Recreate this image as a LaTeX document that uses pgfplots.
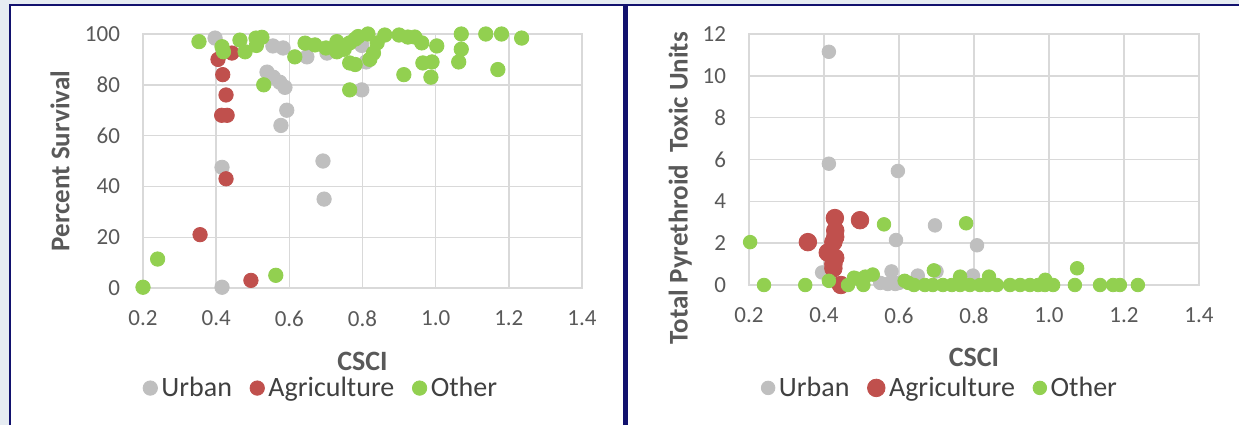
\documentclass[border=0pt]{standalone}
\usepackage{pgfplots}
\pgfplotsset{compat=1.18}
\usepackage{fontspec}
\setmainfont{Carlito}
\definecolor{bgc}{RGB}{230,236,242}
\definecolor{navy}{RGB}{18,18,110}
\definecolor{gridc}{RGB}{217,217,217}
\definecolor{txt}{RGB}{89,89,89}
\definecolor{urb}{RGB}{191,191,191}
\definecolor{agr}{RGB}{192,80,77}
\definecolor{oth}{RGB}{146,208,80}
\pgfplotsset{
  common/.style={
    scale only axis,
    anchor=south west,
    clip=false,
    xmin=0.2, xmax=1.4,
    xtick={0.2,0.4,...,1.4},
    grid=major,
    major grid style={draw=gridc, line width=0.7pt},
    axis line style={draw=gridc, line width=0.7pt},
    major tick length=0pt,
    /pgf/number format/assume math mode=true,
    tick label style={font=\fontsize{11.5}{13}\selectfont, text=txt},
    xticklabel style={/pgf/number format/.cd, fixed, fixed zerofill, precision=1, /tikz/.cd, yshift=-8pt},
    yticklabel style={xshift=-8pt},
    xlabel={CSCI},
    xlabel style={font=\fontsize{14}{16}\selectfont\bfseries, text=txt, at={(axis description cs:0.5,-0.29)}, anchor=center},
    legend columns=-1,
    legend style={draw=none, fill=none, font=\fontsize{14}{16}\selectfont, text=black!75, anchor=center,
      /tikz/every even column/.append style={column sep=7pt}},
  }
}
\begin{document}
\begin{tikzpicture}
\fill[bgc] (0,0) rectangle (619.5pt,212.5pt);
\path[use as bounding box] (0,0) rectangle (619.5pt,212.5pt);
\fill[white] (5pt,0) rectangle (619.5pt,210pt);
\draw[navy, line width=1.2pt] (5pt,0) -- (5pt,210pt) -- (619.5pt,210pt);
\draw[navy, line width=2.2pt] (312.75pt,0) -- (312.75pt,210pt);

\begin{axis}[common,
  at={(71.5pt,68.5pt)}, width=219.5pt, height=127pt,
  ymin=0, ymax=100, ytick={0,20,...,100},
  ylabel={Percent Survival},
  ylabel style={font=\fontsize{13.5}{15}\selectfont\bfseries, text=txt, at={(axis description cs:-0.189,0.5)}, anchor=center},
  legend style={at={(axis description cs:0.408,-0.394)}},
]
\addplot[only marks, mark=*, mark size=3.6pt, color=urb] coordinates {
(0.397,98.4) (0.416,47.5) (0.416,0.3) (0.555,95.3) (0.583,94.5) (0.648,91)
(0.703,92.5) (0.798,95.5) (0.81,89) (0.798,78) (0.539,85) (0.556,83)
(0.574,81) (0.588,79) (0.593,70) (0.577,64) (0.692,50) (0.695,35)
};
\addlegendentry{Urban}
\addplot[only marks, mark=*, mark size=3.6pt, color=agr] coordinates {
(0.405,90) (0.443,92.5) (0.418,84) (0.427,76) (0.415,68) (0.430,68)
(0.427,43) (0.356,21) (0.495,3)
};
\addlegendentry{Agriculture}
\addplot[only marks, mark=*, mark size=3.6pt, color=oth] coordinates {
(0.200,0.3) (0.240,11.4) (0.563,5) (0.353,97) (0.416,95) (0.42,93)
(0.465,97.6) (0.479,93) (0.509,98.4) (0.525,98.7) (0.51,95.5) (0.530,80)
(0.615,91) (0.643,96.4) (0.670,95.7) (0.700,94.5) (0.730,97) (0.730,93)
(0.765,96.5) (0.788,99) (0.815,100) (0.840,96.5) (0.830,92.5) (0.820,90)
(0.861,99.6) (0.765,88.6) (0.780,88) (0.765,78) (0.900,99.6) (0.924,98.8)
(0.943,98.8) (0.962,96.5) (1.003,95.3) (0.913,84) (0.965,88.6) (0.990,89)
(0.987,83) (1.070,100) (1.070,94) (1.063,89) (1.137,100) (1.180,100)
(1.235,98.4) (1.170,86) (0.78,98) (0.75,94)
};
\addlegendentry{Other}
\end{axis}

\begin{axis}[common,
  at={(374.5pt,70pt)}, width=225pt, height=125.5pt,
  ymin=0, ymax=12, ytick={0,2,...,12},
  ylabel={Total Pyrethroid\ \ Toxic Units},
  ylabel style={font=\fontsize{13.5}{15}\selectfont\bfseries, text=txt, at={(axis description cs:-0.153,0.386)}, anchor=center},
  legend style={at={(axis description cs:0.427,-0.41)}},
]
\addplot[only marks, mark=*, mark size=3.4pt, color=urb] coordinates {
(0.413,11.15) (0.413,5.8) (0.597,5.45) (0.592,2.15) (0.696,2.85) (0.808,1.9)
(0.395,0.6) (0.58,0.65) (0.65,0.45) (0.797,0.45) (0.70,0.65) (0.55,0.1)
(0.57,0.05) (0.59,0.05) (0.60,0.1) (0.415,0.2)
};
\addlegendentry{Urban}
\addplot[only marks, mark=*, mark size=4.4pt, color=agr] coordinates {
(0.357,2.05) (0.429,3.2) (0.496,3.1) (0.43,2.6) (0.43,2.3) (0.425,2.05)
(0.41,1.55) (0.43,1.3) (0.425,1.0) (0.425,0.8) (0.445,0.0)
};
\addlegendentry{Agriculture}
\addplot[only marks, mark=*, mark size=3.4pt, color=oth] coordinates {
(0.203,2.05) (0.24,0) (0.35,0) (0.413,0.2) (0.56,2.9) (0.779,2.95)
(0.464,0) (0.48,0.35) (0.505,0) (0.51,0.4) (0.53,0.5) (0.615,0.2)
(0.64,0) (0.669,0) (0.693,0.7) (0.69,0) (0.717,0) (0.741,0)
(0.763,0.4) (0.763,0) (0.789,0) (0.816,0) (0.84,0.4) (0.837,0)
(0.861,0) (0.896,0) (0.923,0) (0.949,0) (0.971,0) (0.99,0.25)
(0.989,0) (1.011,0) (1.069,0) (1.075,0.8) (1.136,0) (1.171,0)
(1.189,0) (1.237,0) (0.49,0.3) (0.625,0.1)
};
\addlegendentry{Other}
\end{axis}
\end{tikzpicture}
\end{document}
